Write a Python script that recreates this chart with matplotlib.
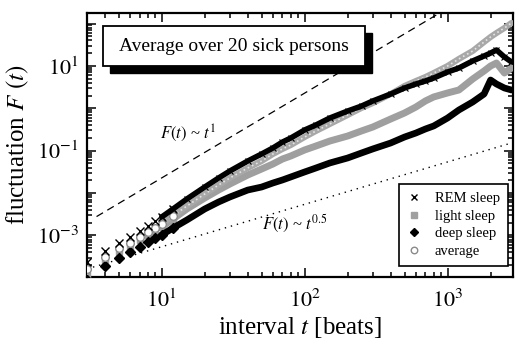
import numpy as np
import matplotlib
matplotlib.use('Agg')
import matplotlib.pyplot as plt
from matplotlib import ticker
from matplotlib.patches import Rectangle

plt.rcParams['font.family'] = ['Liberation Serif', 'DejaVu Serif']
plt.rcParams['mathtext.fontset'] = 'stix'

# interval t [beats]
t_vals = [3, 4, 5, 6, 7, 8, 9, 10, 12, 15, 20, 25, 30, 40, 50, 60, 70, 80, 100,
          120, 150, 200, 250, 300, 400, 500, 600, 700, 800, 1000, 1200, 1500,
          1800, 2000, 2200, 2500, 2800]

rem_sleep = [2.37e-4, 4.31e-4, 6.65e-4, 9.22e-4, 1.28e-3, 1.67e-3, 2.20e-3, 2.73e-3,
             4.22e-3, 7.26e-3, 1.39e-2, 2.27e-2, 3.32e-2, 5.71e-2, 8.36e-2, 0.116,
             0.160, 0.199, 0.308, 0.404, 0.590, 0.863, 1.13, 1.49, 2.17, 3.01, 3.74,
             4.40, 5.18, 7.18, 8.92, 13.1, 17.1, 20.1, 23.7, 16.2, 12.4]

light_sleep = [1.17e-4, 2.64e-4, 4.08e-4, 5.36e-4, 7.83e-4, 1.03e-3, 1.28e-3, 1.59e-3,
               2.45e-3, 4.22e-3, 7.66e-3, 1.18e-2, 1.64e-2, 2.67e-2, 3.70e-2, 4.86e-2,
               6.37e-2, 7.50e-2, 0.104, 0.129, 0.169, 0.222, 0.292, 0.362, 0.559,
               0.775, 1.07, 1.49, 1.85, 2.30, 2.70, 4.91, 7.58, 9.95, 11.7, 6.80, 8.92]

deep_sleep = [8.9e-5, 1.91e-4, 2.95e-4, 4.08e-4, 5.36e-4, 7.03e-4, 8.73e-4, 1.03e-3,
              1.50e-3, 2.32e-3, 4.22e-3, 6.17e-3, 8.09e-3, 1.18e-2, 1.39e-2, 1.73e-2,
              2.04e-2, 2.40e-2, 3.15e-2, 3.91e-2, 5.13e-2, 6.73e-2, 8.83e-2, 0.110,
              0.152, 0.210, 0.261, 0.325, 0.383, 0.590, 0.912, 1.41, 2.17, 4.65,
              3.74, 3.01, 2.70]

average = [1.62e-4, 3.11e-4, 5.07e-4, 6.65e-4, 9.22e-4, 1.21e-3, 1.50e-3, 1.87e-3,
           2.88e-3, 4.96e-3, 9.52e-3, 1.55e-2, 2.27e-2, 3.91e-2, 5.71e-2, 8.36e-2,
           0.110, 0.136, 0.210, 0.292, 0.426, 0.695, 1.02, 1.33, 2.17, 3.36, 4.40,
           5.47, 6.80, 9.95, 14.6, 22.5, 36.6, 48.1, 59.7, 78.4, 103]

labels = ['REM sleep', 'light sleep', 'deep sleep', 'average']

# reference power laws (amplitude, exponent in the plotted quantity)
dashed_amp, dashed_exp = 2.28e-4, 2.0
dotted_amp, dotted_exp = 5.43e-5, 1.0

t = np.array(t_vals, dtype=float)
n_disc = 9   # discrete markers for t <= 12
n_band = 7   # band starts at t = 10

fig = plt.figure(figsize=(5.15, 3.42), dpi=100)
ax = fig.add_axes([0.1689, 0.1901, 0.8272, 0.7719])
ax.set_xscale('log')
ax.set_yscale('log')
ax.set_xlim(3, 2870)
ax.set_ylim(1.05e-4, 177)

# reference lines
tl = np.array([3.5, 3000.0])
ax.plot(tl, dashed_amp * tl ** dashed_exp, color='black', lw=0.9,
        dashes=(6, 4), zorder=2)
td = np.array([3.0, 3000.0])
ax.plot(td, dotted_amp * td ** dotted_exp, color='black', lw=1.0,
        linestyle=(0, (1, 3.5)), zorder=2)

band_kw = dict(solid_capstyle='round', solid_joinstyle='round')
tb = t[n_band:]
# bands
ax.plot(tb, np.array(light_sleep)[n_band:], color='#9f9f9f', lw=5.0, zorder=3, **band_kw)
ax.plot(tb, np.array(deep_sleep)[n_band:], color='black', lw=4.8, zorder=4, **band_kw)
ax.plot(tb, np.array(average)[n_band:], color='#a8a8a8', lw=4.4, zorder=5, **band_kw)
ax.plot(tb, np.array(average)[n_band:], color='#e4e4e4', lw=1.2,
        linestyle=(0, (1, 1.8)), zorder=5)
ax.plot(tb, np.array(rem_sleep)[n_band:], color='black', lw=4.0, zorder=6, **band_kw)
ax.plot(tb, np.array(rem_sleep)[n_band:], 'x', ms=4, color='black', mew=0.8,
        ls='none', zorder=6)

# discrete markers
h_light, = ax.plot(t[:n_disc], light_sleep[:n_disc], 's', ms=5, color='#a0a0a0',
                   mec='#a0a0a0', ls='none', zorder=3)
h_deep, = ax.plot(t[:n_disc], deep_sleep[:n_disc], 'D', ms=4.8, color='black',
                  ls='none', zorder=4)
h_avg, = ax.plot(t[:n_disc], average[:n_disc], 'o', ms=5.5, mfc='white',
                 mec='#8a8a8a', mew=1.0, ls='none', zorder=5)
h_rem, = ax.plot(t[:n_disc], rem_sleep[:n_disc], 'x', ms=5.5, color='black',
                 mew=1.0, ls='none', zorder=6)

leg = ax.legend([h_rem, h_light, h_deep, h_avg], labels, loc='lower right',
                bbox_to_anchor=(0.988, 0.042), borderaxespad=0, fontsize=10.5,
                frameon=True, fancybox=False, framealpha=1, edgecolor='black',
                handlelength=1.0, handletextpad=0.9, labelspacing=0.3,
                borderpad=0.55, markerscale=0.85)
leg.get_frame().set_linewidth(1.2)
leg.set_zorder(10)

# title box with shadow
bx, by, bw, bh = 0.0376, 0.799, 0.615, 0.1515
ax.add_patch(Rectangle((bx + 0.0164, by - 0.0265), bw, bh, transform=ax.transAxes,
                       fc='black', ec='black', zorder=11, clip_on=False))
ax.add_patch(Rectangle((bx, by), bw, bh, transform=ax.transAxes,
                       fc='white', ec='black', lw=1.3, zorder=12, clip_on=False))
ax.text(bx + bw / 2, by + bh / 2, 'Average over 20 sick persons', transform=ax.transAxes,
        ha='center', va='center', fontsize=14, zorder=13)

# power-law annotations
ax.text(0.237, 0.545, r'$F(t)$ ~ $t^{1}$', transform=ax.transAxes, fontsize=12,
        ha='center', va='center', zorder=7)
ax.text(0.487, 0.2, r'$F(t)$ ~ $t^{0.5}$', transform=ax.transAxes, fontsize=12,
        ha='center', va='center', zorder=7)

# ticks
ax.xaxis.set_major_locator(ticker.LogLocator(base=10, numticks=10))
ax.xaxis.set_minor_locator(ticker.LogLocator(base=10, subs=np.arange(2, 10), numticks=10))
ax.yaxis.set_major_locator(ticker.LogLocator(base=10, numticks=20))
ax.yaxis.set_minor_locator(ticker.LogLocator(base=10, subs=np.arange(2, 10), numticks=20))


def yfmt(v, pos):
    e = int(round(np.log10(v)))
    return r'$10^{%d}$' % e if e % 2 != 0 else ''


def xfmt(v, pos):
    e = int(round(np.log10(v)))
    return r'$10^{%d}$' % e


ax.yaxis.set_major_formatter(ticker.FuncFormatter(yfmt))
ax.xaxis.set_major_formatter(ticker.FuncFormatter(xfmt))
ax.yaxis.set_minor_formatter(ticker.NullFormatter())
ax.xaxis.set_minor_formatter(ticker.NullFormatter())

ax.tick_params(which='both', direction='in', top=True, right=True, width=1.1)
ax.tick_params(which='major', length=6.5)
ax.tick_params(which='minor', length=3.8)
ax.tick_params(axis='x', which='major', labelsize=16, pad=9)
ax.tick_params(axis='y', which='major', labelsize=16, pad=6)
for s in ax.spines.values():
    s.set_linewidth(1.6)

ax.set_xlabel(r'interval $t$ [beats]', fontsize=18, labelpad=2)
ax.set_ylabel(r'fluctuation $F$ $(t)$', fontsize=18, labelpad=4)

fig.savefig('out.png', dpi=100)
